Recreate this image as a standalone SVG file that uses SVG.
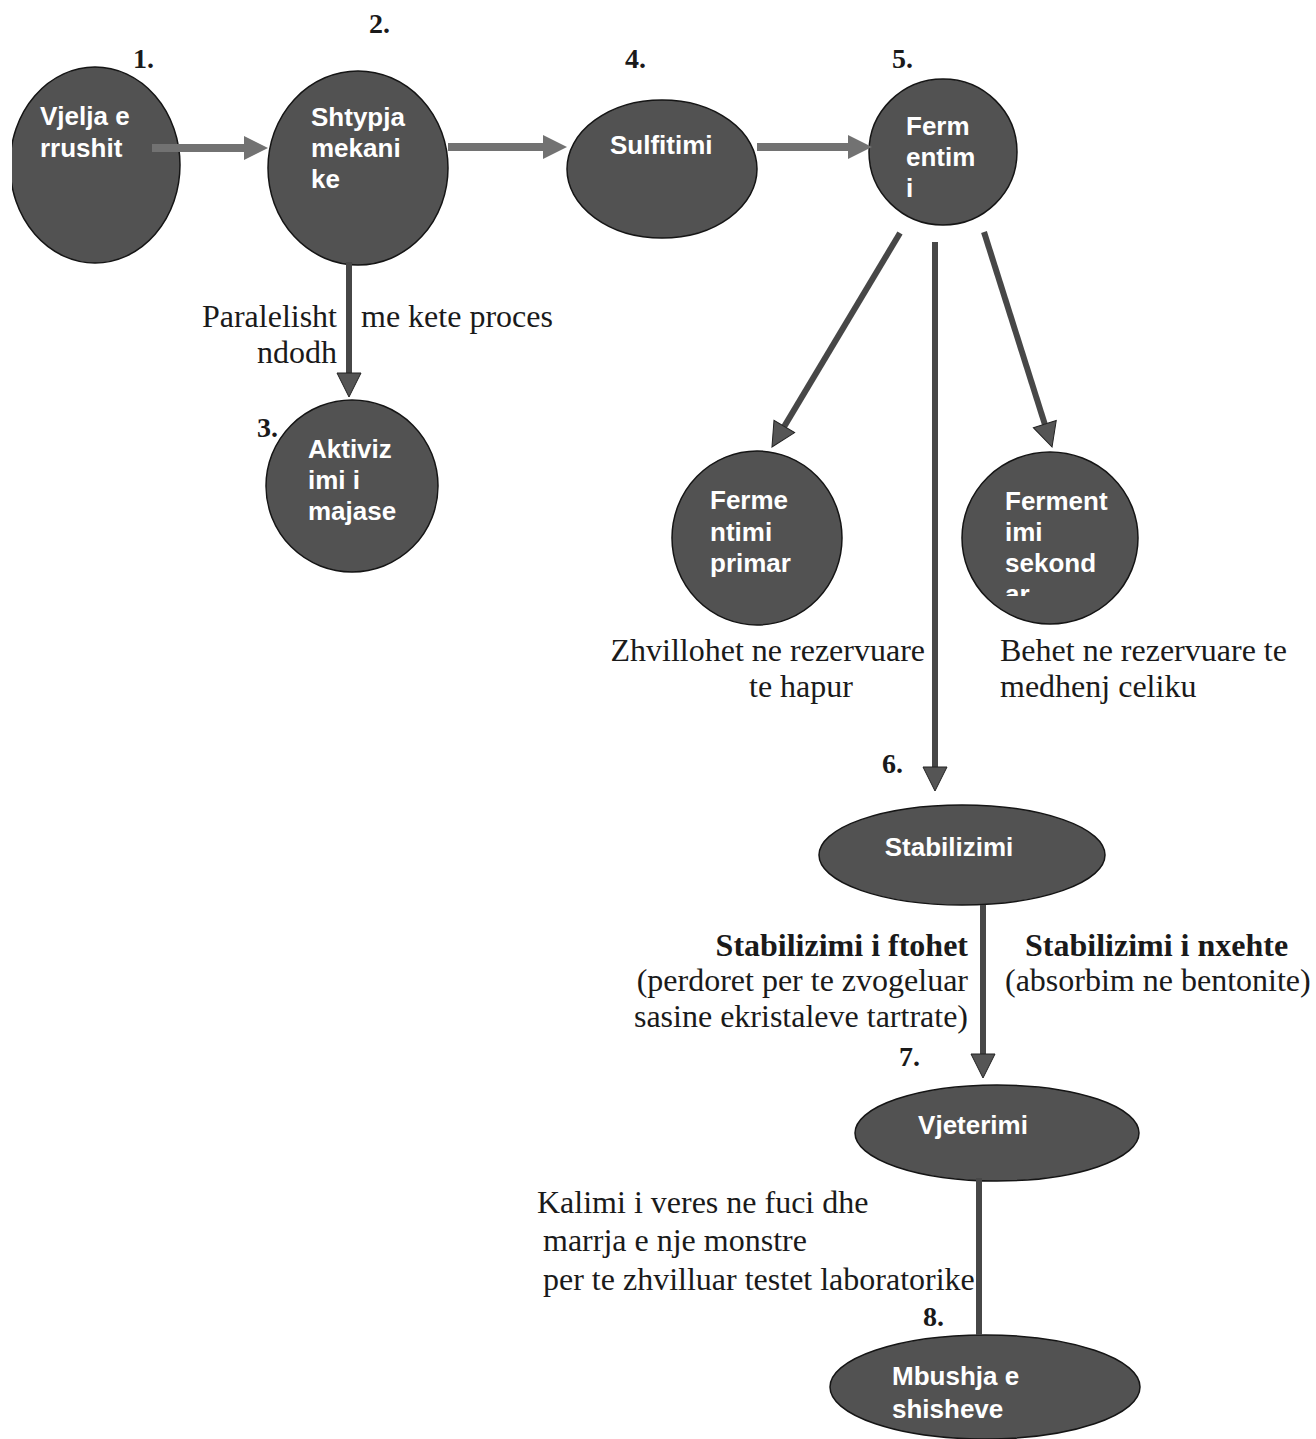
<svg xmlns="http://www.w3.org/2000/svg" width="1316" height="1439" viewBox="0 0 1316 1439">
<style>
.node{fill:#525252;stroke:#151515;stroke-width:1.5}
.nt{font-family:"Liberation Sans",Arial,sans-serif;font-weight:bold;fill:#ffffff;font-size:26px}
.num{font-family:"Liberation Serif","Times New Roman",serif;font-weight:bold;fill:#1a1a1a;font-size:28px}
.lab{font-family:"Liberation Serif","Times New Roman",serif;fill:#1a1a1a;font-size:32px}
.labb{font-family:"Liberation Serif","Times New Roman",serif;fill:#1a1a1a;font-size:32px;font-weight:bold}
.larrow{stroke:#727272;stroke-width:8;fill:none}
.darrow{stroke:#474747;stroke-width:6;fill:none}
</style>
<defs>
<marker id="lhead" markerUnits="userSpaceOnUse" markerWidth="24" markerHeight="26" refX="0" refY="13" orient="auto" overflow="visible">
<path d="M0,1 L24,13 L0,25 z" fill="#727272"/>
</marker>
<marker id="dhead" markerUnits="userSpaceOnUse" markerWidth="24" markerHeight="26" refX="0" refY="13" orient="auto" overflow="visible">
<path d="M0,1 L24,13 L0,25 z" fill="#555555" stroke="#222222" stroke-width="1"/>
</marker>
<clipPath id="clip1"><rect x="12" y="0" width="400" height="400"/></clipPath>
<clipPath id="clipSek"><rect x="900" y="400" width="300" height="196"/></clipPath>
</defs>

<g id="node1">
<ellipse class="node" cx="95" cy="165" rx="85" ry="98" clip-path="url(#clip1)"/>
<text class="nt" x="40" y="125">Vjelja e</text>
<text class="nt" x="40" y="157">rrushit</text>
<text class="num" x="133" y="68">1.</text>
</g>

<g id="node2">
<ellipse class="node" cx="358" cy="168" rx="90" ry="97"/>
<text class="nt" x="311" y="126">Shtypja</text>
<text class="nt" x="311" y="157">mekani</text>
<text class="nt" x="311" y="188">ke</text>
<text class="num" x="369" y="33">2.</text>
</g>

<g id="node3">
<ellipse class="node" cx="352" cy="486" rx="86" ry="86"/>
<text class="nt" x="308" y="458">Aktiviz</text>
<text class="nt" x="308" y="489">imi i</text>
<text class="nt" x="308" y="520">majase</text>
<text class="num" x="257" y="437">3.</text>
</g>

<g id="label-paralel">
<text class="lab" x="337" y="327" text-anchor="end">Paralelisht</text>
<text class="lab" x="361" y="327">me kete proces</text>
<text class="lab" x="337" y="363" text-anchor="end">ndodh</text>
</g>

<g id="node4">
<ellipse class="node" cx="662" cy="169" rx="95" ry="69"/>
<text class="nt" x="610" y="154" font-size="26">Sulfitimi</text>
<text class="num" x="625" y="68">4.</text>
</g>

<g id="node5">
<ellipse class="node" cx="943" cy="152" rx="74" ry="73"/>
<text class="nt" x="906" y="135">Ferm</text>
<text class="nt" x="906" y="166">entim</text>
<text class="nt" x="906" y="197">i</text>
<text class="num" x="892" y="68" font-weight="normal">5.</text>
</g>

<g id="node-primar">
<ellipse class="node" cx="757" cy="538" rx="85" ry="87"/>
<text class="nt" x="710" y="509">Ferme</text>
<text class="nt" x="710" y="541">ntimi</text>
<text class="nt" x="710" y="572">primar</text>
<text class="lab" x="925" y="661" text-anchor="end">Zhvillohet ne rezervuare</text>
<text class="lab" x="801" y="697" text-anchor="middle">te hapur</text>
</g>

<g id="node-sekondar">
<ellipse class="node" cx="1050" cy="538" rx="88" ry="86"/>
<g clip-path="url(#clipSek)">
<text class="nt" x="1005" y="510">Ferment</text>
<text class="nt" x="1005" y="541">imi</text>
<text class="nt" x="1005" y="572">sekond</text>
<text class="nt" x="1005" y="603">ar</text>
</g>
<text class="lab" x="1000" y="661">Behet ne rezervuare te</text>
<text class="lab" x="1000" y="697">medhenj celiku</text>
</g>

<g id="node6">
<ellipse class="node" cx="962" cy="855" rx="143" ry="50"/>
<text class="nt" x="949" y="856" text-anchor="middle" font-size="28">Stabilizimi</text>
<text class="num" x="882" y="773">6.</text>
<text class="labb" x="968" y="956" text-anchor="end">Stabilizimi i ftohet</text>
<text class="lab" x="968" y="991" text-anchor="end">(perdoret per te zvogeluar</text>
<text class="lab" x="968" y="1027" text-anchor="end">sasine ekristaleve tartrate)</text>
<text class="labb" x="1025" y="956">Stabilizimi i nxehte</text>
<text class="lab" x="1005" y="991">(absorbim ne bentonite)</text>
</g>

<g id="node7">
<ellipse class="node" cx="997" cy="1133" rx="142" ry="48"/>
<text class="nt" x="973" y="1134" text-anchor="middle" font-size="28">Vjeterimi</text>
<text class="num" x="899" y="1066">7.</text>
<text class="lab" x="537" y="1213">Kalimi i veres ne fuci dhe</text>
<text class="lab" x="543" y="1251">marrja e nje monstre</text>
<text class="lab" x="543" y="1290">per te zhvilluar testet laboratorike</text>
</g>

<g id="node8">
<ellipse class="node" cx="985" cy="1387" rx="155" ry="52"/>
<text class="nt" x="892" y="1385" font-size="28">Mbushja e</text>
<text class="nt" x="892" y="1418" font-size="28">shisheve</text>
<text class="num" x="923" y="1326">8.</text>
</g>

<g id="connectors">
<line class="larrow" x1="152" y1="148" x2="244" y2="148" marker-end="url(#lhead)"/>
<line class="larrow" x1="448" y1="147" x2="543" y2="147" marker-end="url(#lhead)"/>
<line class="larrow" x1="757" y1="147" x2="848" y2="147" marker-end="url(#lhead)"/>
<line class="darrow" x1="349" y1="262" x2="349" y2="373" marker-end="url(#dhead)"/>
<line class="darrow" x1="900" y1="233" x2="784.3" y2="426.4" marker-end="url(#dhead)"/>
<line class="darrow" x1="935" y1="242" x2="935" y2="767" marker-end="url(#dhead)"/>
<line class="darrow" x1="984" y1="232" x2="1044.8" y2="424.1" marker-end="url(#dhead)"/>
<line class="darrow" x1="983" y1="905" x2="983" y2="1054" marker-end="url(#dhead)"/>
<line class="darrow" x1="979" y1="1178" x2="979" y2="1335"/>
</g>
</svg>
